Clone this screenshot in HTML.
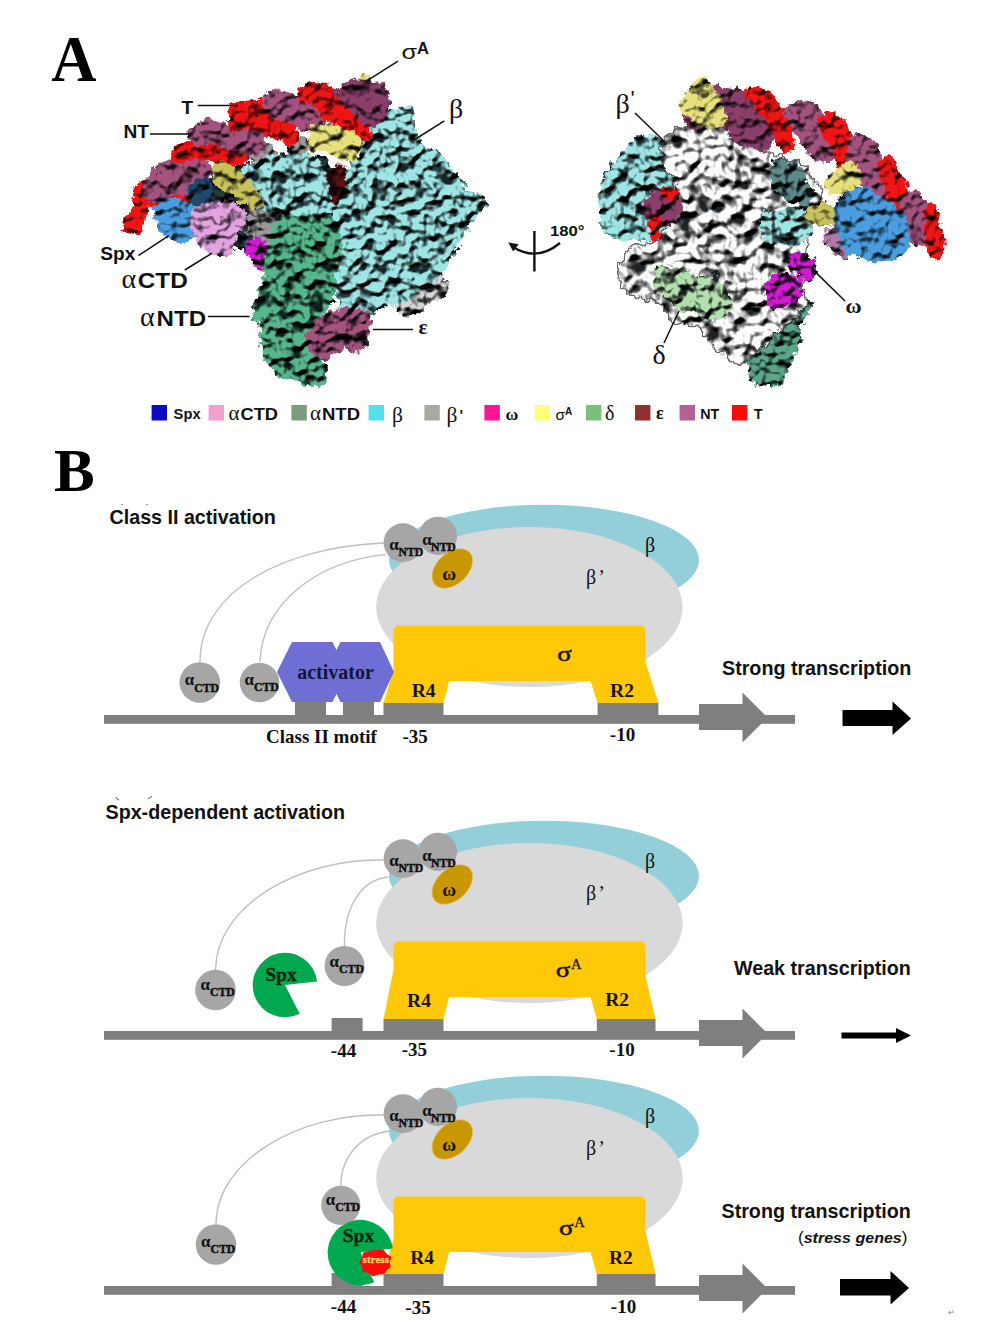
<!DOCTYPE html>
<html lang="en"><head><meta charset="utf-8"><title>Figure</title>
<style>html,body{margin:0;padding:0;background:#fff}svg{display:block}text{white-space:pre}</style></head><body>
<svg width="1000" height="1342" viewBox="0 0 1000 1342">
<rect width="1000" height="1342" fill="#fff"/>
<defs>
<filter id="fA" filterUnits="userSpaceOnUse" x="100" y="55" width="410" height="345" color-interpolation-filters="sRGB">
  <feTurbulence type="fractalNoise" baseFrequency="0.14" numOctaves="3" seed="5" result="n1"/>
  <feTurbulence type="fractalNoise" baseFrequency="0.045" numOctaves="1" seed="45" result="n0"/>
  <feDisplacementMap in="SourceGraphic" in2="n0" scale="14.3" xChannelSelector="G" yChannelSelector="B" result="shp0"/>
  <feDisplacementMap in="shp0" in2="n1" scale="11" xChannelSelector="R" yChannelSelector="G" result="shp"/>
  <feTurbulence type="fractalNoise" baseFrequency="0.08" numOctaves="2" seed="11" result="n2"/>
  <feColorMatrix in="n2" type="matrix" values="0 0 0 0 1  0 0 0 0 1  0 0 0 0 1  2.2 0 0 0 -0.6" result="hmap"/>
  <feDiffuseLighting in="hmap" surfaceScale="7" diffuseConstant="1.28" lighting-color="#ffffff" result="lit">
    <feDistantLight azimuth="250" elevation="58"/>
  </feDiffuseLighting>
  <feComposite in="lit" in2="shp" operator="arithmetic" k1="1" k2="0" k3="0" k4="0" result="shaded"/>
  <feColorMatrix in="n2" type="matrix" values="0 0 0 0 0.0  0 0 0 0 0.02  0 0 0 0 0.03  -8 0 0 0 2.92" result="dk0"/>
  <feComponentTransfer in="dk0" result="dk"><feFuncA type="linear" slope="0.86" intercept="0"/></feComponentTransfer>
  <feComposite in="dk" in2="shp" operator="in" result="dkin"/>
  
  <feMerge result="mrg"><feMergeNode in="shaded"/><feMergeNode in="dkin"/></feMerge>
  <feGaussianBlur in="mrg" stdDeviation="0.55"/>
</filter>
<filter id="fB" filterUnits="userSpaceOnUse" x="580" y="55" width="380" height="345" color-interpolation-filters="sRGB">
  <feTurbulence type="fractalNoise" baseFrequency="0.14" numOctaves="3" seed="8" result="n1"/>
  <feTurbulence type="fractalNoise" baseFrequency="0.045" numOctaves="1" seed="48" result="n0"/>
  <feDisplacementMap in="SourceGraphic" in2="n0" scale="14.3" xChannelSelector="G" yChannelSelector="B" result="shp0"/>
  <feDisplacementMap in="shp0" in2="n1" scale="11" xChannelSelector="R" yChannelSelector="G" result="shp"/>
  <feTurbulence type="fractalNoise" baseFrequency="0.08" numOctaves="2" seed="17" result="n2"/>
  <feColorMatrix in="n2" type="matrix" values="0 0 0 0 1  0 0 0 0 1  0 0 0 0 1  2.2 0 0 0 -0.6" result="hmap"/>
  <feDiffuseLighting in="hmap" surfaceScale="7" diffuseConstant="1.28" lighting-color="#ffffff" result="lit">
    <feDistantLight azimuth="250" elevation="58"/>
  </feDiffuseLighting>
  <feComposite in="lit" in2="shp" operator="arithmetic" k1="1" k2="0" k3="0" k4="0" result="shaded"/>
  <feColorMatrix in="n2" type="matrix" values="0 0 0 0 0.0  0 0 0 0 0.02  0 0 0 0 0.03  -8 0 0 0 2.92" result="dk0"/>
  <feComponentTransfer in="dk0" result="dk"><feFuncA type="linear" slope="0.86" intercept="0"/></feComponentTransfer>
  <feComposite in="dk" in2="shp" operator="in" result="dkin"/>
  
  <feMerge result="mrg"><feMergeNode in="shaded"/><feMergeNode in="dkin"/></feMerge>
  <feGaussianBlur in="mrg" stdDeviation="0.55"/>
</filter>
<filter id="fA2" filterUnits="userSpaceOnUse" x="100" y="55" width="410" height="345" color-interpolation-filters="sRGB">
  <feTurbulence type="fractalNoise" baseFrequency="0.14" numOctaves="3" seed="6" result="n1"/>
  <feTurbulence type="fractalNoise" baseFrequency="0.045" numOctaves="1" seed="46" result="n0"/>
  <feDisplacementMap in="SourceGraphic" in2="n0" scale="11.7" xChannelSelector="G" yChannelSelector="B" result="shp0"/>
  <feDisplacementMap in="shp0" in2="n1" scale="9" xChannelSelector="R" yChannelSelector="G" result="shp"/>
  <feTurbulence type="fractalNoise" baseFrequency="0.08" numOctaves="2" seed="12" result="n2"/>
  <feColorMatrix in="n2" type="matrix" values="0 0 0 0 1  0 0 0 0 1  0 0 0 0 1  2.2 0 0 0 -0.6" result="hmap"/>
  <feDiffuseLighting in="hmap" surfaceScale="4.5" diffuseConstant="1.28" lighting-color="#ffffff" result="lit">
    <feDistantLight azimuth="250" elevation="58"/>
  </feDiffuseLighting>
  <feComposite in="lit" in2="shp" operator="arithmetic" k1="1" k2="0" k3="0" k4="0" result="shaded"/>
  <feColorMatrix in="n2" type="matrix" values="0 0 0 0 0.0  0 0 0 0 0.02  0 0 0 0 0.03  -8 0 0 0 2.5" result="dk0"/>
  <feComponentTransfer in="dk0" result="dk"><feFuncA type="linear" slope="0.68" intercept="0"/></feComponentTransfer>
  <feComposite in="dk" in2="shp" operator="in" result="dkin"/>
  
  <feMerge result="mrg"><feMergeNode in="shaded"/><feMergeNode in="dkin"/></feMerge>
  <feGaussianBlur in="mrg" stdDeviation="0.55"/>
</filter>
<filter id="fB2" filterUnits="userSpaceOnUse" x="580" y="55" width="380" height="345" color-interpolation-filters="sRGB">
  <feTurbulence type="fractalNoise" baseFrequency="0.14" numOctaves="3" seed="9" result="n1"/>
  <feTurbulence type="fractalNoise" baseFrequency="0.045" numOctaves="1" seed="49" result="n0"/>
  <feDisplacementMap in="SourceGraphic" in2="n0" scale="11.7" xChannelSelector="G" yChannelSelector="B" result="shp0"/>
  <feDisplacementMap in="shp0" in2="n1" scale="9" xChannelSelector="R" yChannelSelector="G" result="shp"/>
  <feTurbulence type="fractalNoise" baseFrequency="0.08" numOctaves="2" seed="18" result="n2"/>
  <feColorMatrix in="n2" type="matrix" values="0 0 0 0 1  0 0 0 0 1  0 0 0 0 1  2.2 0 0 0 -0.6" result="hmap"/>
  <feDiffuseLighting in="hmap" surfaceScale="4.5" diffuseConstant="1.28" lighting-color="#ffffff" result="lit">
    <feDistantLight azimuth="250" elevation="58"/>
  </feDiffuseLighting>
  <feComposite in="lit" in2="shp" operator="arithmetic" k1="1" k2="0" k3="0" k4="0" result="shaded"/>
  <feColorMatrix in="n2" type="matrix" values="0 0 0 0 0.0  0 0 0 0 0.02  0 0 0 0 0.03  -8 0 0 0 2.5" result="dk0"/>
  <feComponentTransfer in="dk0" result="dk"><feFuncA type="linear" slope="0.68" intercept="0"/></feComponentTransfer>
  <feComposite in="dk" in2="shp" operator="in" result="dkin"/>
  
  <feMerge result="mrg"><feMergeNode in="shaded"/><feMergeNode in="dkin"/></feMerge>
  <feGaussianBlur in="mrg" stdDeviation="0.55"/>
</filter>
<filter id="fW" filterUnits="userSpaceOnUse" x="580" y="55" width="380" height="345" color-interpolation-filters="sRGB">
  <feTurbulence type="fractalNoise" baseFrequency="0.14" numOctaves="3" seed="8" result="n1"/>
  <feTurbulence type="fractalNoise" baseFrequency="0.045" numOctaves="1" seed="48" result="n0"/>
  <feDisplacementMap in="SourceGraphic" in2="n0" scale="14.3" xChannelSelector="G" yChannelSelector="B" result="shp0"/>
  <feDisplacementMap in="shp0" in2="n1" scale="11" xChannelSelector="R" yChannelSelector="G" result="shp"/>
  <feTurbulence type="fractalNoise" baseFrequency="0.065" numOctaves="2" seed="17" result="n2"/>
  <feColorMatrix in="n2" type="matrix" values="0 0 0 0 1  0 0 0 0 1  0 0 0 0 1  2.2 0 0 0 -0.6" result="hmap"/>
  <feDiffuseLighting in="hmap" surfaceScale="8.5" diffuseConstant="1.27" lighting-color="#ffffff" result="lit">
    <feDistantLight azimuth="250" elevation="58"/>
  </feDiffuseLighting>
  <feComposite in="lit" in2="shp" operator="arithmetic" k1="1" k2="0" k3="0" k4="0" result="shaded"/>
  <feColorMatrix in="n2" type="matrix" values="0 0 0 0 0.0  0 0 0 0 0.02  0 0 0 0 0.03  -8 0 0 0 3.0" result="dk0"/>
  <feComponentTransfer in="dk0" result="dk"><feFuncA type="linear" slope="0.88" intercept="0"/></feComponentTransfer>
  <feComposite in="dk" in2="shp" operator="in" result="dkin"/>
  <feMorphology in="shp" operator="dilate" radius="0.9" result="dil"/><feColorMatrix in="dil" type="matrix" values="0 0 0 0 0.2  0 0 0 0 0.2  0 0 0 0 0.2  0 0 0 0.75 0" result="edge"/>
  <feMerge result="mrg"><feMergeNode in="edge"/><feMergeNode in="shaded"/><feMergeNode in="dkin"/></feMerge>
  <feGaussianBlur in="mrg" stdDeviation="0.55"/>
</filter>
</defs>
<g filter="url(#fA)">
<path d="M192.0 196.0 C193.2 186.0 202.3 181.3 212.0 176.0 C221.7 170.7 235.3 167.0 250.0 164.0 C264.7 161.0 286.7 158.0 300.0 158.0 C313.3 158.0 323.0 154.7 330.0 164.0 C337.0 173.3 349.7 203.7 342.0 214.0 C334.3 224.3 298.3 220.0 284.0 226.0 C269.7 232.0 269.2 248.3 256.0 250.0 C242.8 251.7 215.7 245.0 205.0 236.0 C194.3 227.0 190.8 206.0 192.0 196.0Z" fill="#27383a"/>
<path d="M246.0 215.0 C248.0 210.3 256.3 207.5 262.0 208.0 C267.7 208.5 276.3 211.8 280.0 218.0 C283.7 224.2 285.0 237.7 284.0 245.0 C283.0 252.3 278.3 260.2 274.0 262.0 C269.7 263.8 262.0 260.3 258.0 256.0 C254.0 251.7 252.0 242.8 250.0 236.0 C248.0 229.2 244.0 219.7 246.0 215.0Z" fill="#9a9a9a"/>
<path d="M246.0 152.0 C247.7 149.3 257.3 145.7 262.0 146.0 C266.7 146.3 273.0 151.0 274.0 154.0 C275.0 157.0 271.7 162.7 268.0 164.0 C264.3 165.3 255.7 164.0 252.0 162.0 C248.3 160.0 244.3 154.7 246.0 152.0Z" fill="#9a9a9a"/>
<path d="M286.0 144.0 C287.7 141.3 296.0 137.7 300.0 138.0 C304.0 138.3 309.7 143.0 310.0 146.0 C310.3 149.0 305.3 154.7 302.0 156.0 C298.7 157.3 292.7 156.0 290.0 154.0 C287.3 152.0 284.3 146.7 286.0 144.0Z" fill="#9a9a9a"/>
<path d="M392.0 302.0 C394.7 297.0 409.7 290.3 418.0 286.0 C426.3 281.7 436.7 275.7 442.0 276.0 C447.3 276.3 452.3 283.0 450.0 288.0 C447.7 293.0 436.0 301.3 428.0 306.0 C420.0 310.7 408.0 316.7 402.0 316.0 C396.0 315.3 389.3 307.0 392.0 302.0Z" fill="#d8d4d4"/>
<path d="M246.0 244.0 C246.7 239.3 254.0 237.0 258.0 238.0 C262.0 239.0 268.3 245.0 270.0 250.0 C271.7 255.0 270.7 265.3 268.0 268.0 C265.3 270.7 257.7 270.0 254.0 266.0 C250.3 262.0 245.3 248.7 246.0 244.0Z" fill="#d21ad2"/>
<path d="M238.0 177.0 C239.5 171.7 247.3 167.3 252.0 164.0 C256.7 160.7 259.2 159.0 266.0 157.0 C272.8 155.0 285.2 152.2 293.0 152.0 C300.8 151.8 307.2 153.0 313.0 156.0 C318.8 159.0 322.7 168.3 328.0 170.0 C333.3 171.7 339.7 168.7 345.0 166.0 C350.3 163.3 356.8 159.2 360.0 154.0 C363.2 148.8 362.7 141.0 364.0 135.0 C365.3 129.0 364.8 122.5 368.0 118.0 C371.2 113.5 376.0 109.3 383.0 108.0 C390.0 106.7 404.2 106.3 410.0 110.0 C415.8 113.7 416.0 124.7 418.0 130.0 C420.0 135.3 418.0 137.7 422.0 142.0 C426.0 146.3 435.3 149.3 442.0 156.0 C448.7 162.7 454.7 174.0 462.0 182.0 C469.3 190.0 484.7 197.0 486.0 204.0 C487.3 211.0 475.2 216.3 470.0 224.0 C464.8 231.7 459.7 241.7 455.0 250.0 C450.3 258.3 448.5 266.7 442.0 274.0 C435.5 281.3 425.7 288.2 416.0 294.0 C406.3 299.8 393.3 305.7 384.0 309.0 C374.7 312.3 367.3 313.8 360.0 314.0 C352.7 314.2 344.3 315.7 340.0 310.0 C335.7 304.3 334.3 290.0 334.0 280.0 C333.7 270.0 337.7 259.2 338.0 250.0 C338.3 240.8 337.7 231.3 336.0 225.0 C334.3 218.7 335.2 213.5 328.0 212.0 C320.8 210.5 302.0 215.3 293.0 216.0 C284.0 216.7 279.8 217.8 274.0 216.0 C268.2 214.2 263.2 208.3 258.0 205.0 C252.8 201.7 246.3 200.7 243.0 196.0 C239.7 191.3 236.5 182.3 238.0 177.0Z" fill="#9ee6e6"/>
<path d="M330.0 166.0 C332.2 160.7 340.3 160.3 343.0 164.0 C345.7 167.7 346.8 181.3 346.0 188.0 C345.2 194.7 340.7 202.7 338.0 204.0 C335.3 205.3 331.3 202.3 330.0 196.0 C328.7 189.7 327.8 171.3 330.0 166.0Z" fill="#5a1414"/>
<path d="M272.0 224.0 C276.2 219.2 287.7 215.7 297.0 214.0 C306.3 212.3 320.7 210.5 328.0 214.0 C335.3 217.5 339.2 225.0 341.0 235.0 C342.8 245.0 340.8 262.5 339.0 274.0 C337.2 285.5 334.5 295.0 330.0 304.0 C325.5 313.0 314.0 320.0 312.0 328.0 C310.0 336.0 316.0 344.2 318.0 352.0 C320.0 359.8 324.7 369.2 324.0 375.0 C323.3 380.8 321.0 386.7 314.0 387.0 C307.0 387.3 290.7 382.5 282.0 377.0 C273.3 371.5 266.0 362.8 262.0 354.0 C258.0 345.2 260.0 330.5 258.0 324.0 C256.0 317.5 249.7 320.7 250.0 315.0 C250.3 309.3 257.3 299.5 260.0 290.0 C262.7 280.5 264.0 265.8 266.0 258.0 C268.0 250.2 271.0 248.7 272.0 243.0 C273.0 237.3 267.8 228.8 272.0 224.0Z" fill="#56b78c"/>
<path d="M304.0 334.0 C305.0 326.7 317.0 318.3 326.0 314.0 C335.0 309.7 350.3 306.3 358.0 308.0 C365.7 309.7 371.0 317.3 372.0 324.0 C373.0 330.7 369.7 343.2 364.0 348.0 C358.3 352.8 345.3 351.3 338.0 353.0 C330.7 354.7 325.7 361.2 320.0 358.0 C314.3 354.8 303.0 341.3 304.0 334.0Z" fill="#a4537f"/>
</g><g filter="url(#fA2)">
<path d="M125.4 228.6 C123.7 224.1 128.8 212.6 131.1 204.8 C133.3 197.1 136.0 185.8 139.0 182.2 C142.0 178.7 147.7 179.4 149.2 183.4 C150.7 187.3 149.4 197.9 148.0 206.0 C146.7 214.1 145.0 228.2 141.3 232.0 C137.5 235.7 127.1 233.1 125.4 228.6Z" fill="#f01414"/>
<path d="M142.6 202.9 C142.2 199.5 148.3 190.5 153.9 187.1 C159.6 183.7 169.7 183.3 176.5 182.6 C183.3 181.8 190.5 180.3 194.6 182.6 C198.7 184.8 204.0 192.4 201.4 196.1 C198.7 199.9 186.3 203.3 178.8 205.2 C171.2 207.1 162.2 207.8 156.2 207.4 C150.2 207.1 143.0 206.3 142.6 202.9Z" fill="#f01414"/>
<path d="M143.3 198.2 C141.4 193.7 144.2 180.3 146.7 174.5 C149.1 168.6 152.3 166.2 158.0 163.2 C163.6 160.2 173.1 157.1 180.6 156.4 C188.1 155.6 198.1 155.6 203.2 158.6 C208.3 161.7 211.3 169.2 211.1 174.5 C210.9 179.7 207.9 186.9 202.1 190.3 C196.2 193.7 183.4 192.9 176.1 194.8 C168.7 196.7 163.5 201.0 158.0 201.6 C152.5 202.2 145.2 202.7 143.3 198.2Z" fill="#a4537f"/>
<path d="M186.3 185.2 C188.8 181.2 200.8 177.3 205.5 178.4 C210.3 179.5 214.4 187.6 214.6 191.9 C214.8 196.3 210.6 202.7 206.7 204.4 C202.7 206.1 194.2 205.3 190.9 202.1 C187.5 198.9 183.9 189.1 186.3 185.2Z" fill="#1f4a6e"/>
<path d="M169.5 150.7 C171.4 146.7 179.8 142.8 187.6 140.5 C195.3 138.2 206.4 136.2 215.8 137.1 C225.2 138.1 238.4 142.2 244.1 146.2 C249.7 150.1 252.3 157.5 249.7 160.8 C247.1 164.2 236.7 166.3 228.2 166.5 C219.8 166.7 207.5 162.4 198.9 162.0 C190.2 161.6 181.2 166.1 176.3 164.2 C171.4 162.4 167.6 154.6 169.5 150.7Z" fill="#f01414"/>
<path d="M186.3 132.6 C187.2 128.5 195.7 120.5 202.1 119.0 C208.5 117.5 217.2 123.2 224.7 123.6 C232.2 123.9 240.5 119.8 247.3 121.3 C254.1 122.8 262.7 127.3 265.4 132.6 C268.0 137.9 267.1 149.5 263.1 152.9 C259.2 156.3 249.0 154.1 241.6 152.9 C234.3 151.8 226.6 147.7 219.0 146.2 C211.5 144.6 201.9 146.2 196.4 143.9 C191.0 141.6 185.3 136.7 186.3 132.6Z" fill="#a4537f"/>
<path d="M228.2 120.8 C228.5 116.5 231.9 107.4 237.2 103.9 C242.5 100.3 252.1 98.4 259.8 99.3 C267.5 100.3 277.3 104.6 283.5 109.5 C289.8 114.4 295.6 123.1 297.1 128.7 C298.6 134.4 296.9 142.1 292.6 143.4 C288.3 144.7 278.5 138.9 271.1 136.6 C263.8 134.4 254.5 131.0 248.5 129.9 C242.5 128.7 238.3 131.4 235.0 129.9 C231.6 128.3 227.8 125.1 228.2 120.8Z" fill="#f01414"/>
<path d="M259.0 102.9 C259.6 98.9 266.5 92.9 272.6 91.6 C278.6 90.2 288.4 93.1 295.2 94.9 C302.0 96.8 308.0 98.9 313.3 102.9 C318.5 106.8 325.3 113.2 326.8 118.7 C328.3 124.1 326.6 133.6 322.3 135.6 C318.0 137.7 307.2 133.4 300.8 131.1 C294.4 128.8 289.1 124.7 283.9 122.1 C278.6 119.4 273.3 118.5 269.2 115.3 C265.0 112.1 258.4 106.8 259.0 102.9Z" fill="#a4537f"/>
<path d="M294.7 89.7 C296.2 86.3 303.4 82.2 309.4 81.8 C315.4 81.5 324.5 84.3 330.9 87.5 C337.3 90.7 342.2 95.8 347.8 101.0 C353.5 106.3 361.2 112.9 364.8 119.1 C368.3 125.3 371.3 134.7 369.3 138.3 C367.2 141.9 358.0 142.8 352.3 140.6 C346.7 138.3 341.4 130.0 335.4 124.8 C329.4 119.5 322.0 112.7 316.2 108.9 C310.3 105.2 303.9 105.4 300.3 102.2 C296.8 99.0 293.2 93.1 294.7 89.7Z" fill="#f01414"/>
<path d="M356.0 85.4 C354.7 83.5 359.0 77.5 361.6 76.3 C364.3 75.2 370.5 76.7 371.8 78.6 C373.1 80.5 372.2 86.5 369.6 87.7 C366.9 88.8 357.3 87.3 356.0 85.4Z" fill="#e8e07a"/>
<path d="M333.5 95.4 C332.2 90.9 337.8 85.6 342.5 83.0 C347.3 80.3 355.0 79.0 361.8 79.6 C368.5 80.2 378.5 82.2 383.2 86.4 C387.9 90.5 390.0 98.6 390.0 104.5 C390.0 110.3 387.2 118.2 383.2 121.4 C379.3 124.6 371.7 125.5 366.3 123.7 C360.8 121.8 355.9 114.8 350.5 110.1 C345.0 105.4 334.8 99.9 333.5 95.4Z" fill="#8a3f6a"/>
<path d="M307.0 140.0 C307.0 135.3 309.0 128.2 312.0 125.0 C315.0 121.8 320.3 121.0 325.0 121.0 C329.7 121.0 335.3 123.2 340.0 125.0 C344.7 126.8 349.5 128.5 353.0 132.0 C356.5 135.5 360.5 141.5 361.0 146.0 C361.5 150.5 359.5 156.8 356.0 159.0 C352.5 161.2 345.2 160.3 340.0 159.0 C334.8 157.7 329.7 152.0 325.0 151.0 C320.3 150.0 315.0 154.8 312.0 153.0 C309.0 151.2 307.0 144.7 307.0 140.0Z" fill="#e8e07a"/>
<path d="M211.0 170.0 C212.5 166.3 220.2 163.2 225.0 163.0 C229.8 162.8 235.7 165.3 240.0 169.0 C244.3 172.7 247.2 180.2 251.0 185.0 C254.8 189.8 261.7 194.0 263.0 198.0 C264.3 202.0 262.8 207.8 259.0 209.0 C255.2 210.2 245.2 207.7 240.0 205.0 C234.8 202.3 232.0 196.3 228.0 193.0 C224.0 189.7 218.8 188.8 216.0 185.0 C213.2 181.2 209.5 173.7 211.0 170.0Z" fill="#c9c25c"/>
<path d="M154.0 206.0 C155.3 202.2 159.8 200.2 165.0 199.0 C170.2 197.8 179.3 197.5 185.0 199.0 C190.7 200.5 196.3 203.7 199.0 208.0 C201.7 212.3 202.0 219.8 201.0 225.0 C200.0 230.2 196.8 236.0 193.0 239.0 C189.2 242.0 182.7 243.3 178.0 243.0 C173.3 242.7 168.5 240.5 165.0 237.0 C161.5 233.5 158.8 227.2 157.0 222.0 C155.2 216.8 152.7 209.8 154.0 206.0Z" fill="#4a9ee0"/>
<path d="M190.0 214.0 C191.5 209.7 194.8 206.3 199.0 204.0 C203.2 201.7 209.3 200.2 215.0 200.0 C220.7 199.8 227.8 200.8 233.0 203.0 C238.2 205.2 244.2 209.0 246.0 213.0 C247.8 217.0 245.8 222.8 244.0 227.0 C242.2 231.2 237.2 233.8 235.0 238.0 C232.8 242.2 233.5 249.0 231.0 252.0 C228.5 255.0 224.0 256.5 220.0 256.0 C216.0 255.5 211.0 251.2 207.0 249.0 C203.0 246.8 198.8 246.2 196.0 243.0 C193.2 239.8 191.0 234.8 190.0 230.0 C189.0 225.2 188.5 218.3 190.0 214.0Z" fill="#e3a2e0"/>
</g>
<g filter="url(#fB)">
<path d="M598.0 212.0 C596.7 201.2 601.0 183.0 606.0 172.0 C611.0 161.0 620.0 152.3 628.0 146.0 C636.0 139.7 646.8 133.3 654.0 134.0 C661.2 134.7 667.2 142.3 671.0 150.0 C674.8 157.7 676.8 169.7 677.0 180.0 C677.2 190.3 673.7 202.7 672.0 212.0 C670.3 221.3 672.3 231.0 667.0 236.0 C661.7 241.0 648.8 241.8 640.0 242.0 C631.2 242.2 621.0 242.0 614.0 237.0 C607.0 232.0 599.3 222.8 598.0 212.0Z" fill="#9ee6e6"/>
<path d="M744.0 312.0 C748.3 303.7 760.7 302.5 770.0 300.0 C779.3 297.5 793.2 296.2 800.0 297.0 C806.8 297.8 810.8 300.3 811.0 305.0 C811.2 309.7 803.0 318.3 801.0 325.0 C799.0 331.7 800.7 338.3 799.0 345.0 C797.3 351.7 795.3 358.0 791.0 365.0 C786.7 372.0 779.5 384.3 773.0 387.0 C766.5 389.7 756.8 387.2 752.0 381.0 C747.2 374.8 745.3 361.5 744.0 350.0 C742.7 338.5 739.7 320.3 744.0 312.0Z" fill="#5aa688"/>
</g><g filter="url(#fW)">
<path d="M664.0 142.0 C667.2 135.8 676.3 131.7 684.0 128.0 C691.7 124.3 700.7 119.7 710.0 120.0 C719.3 120.3 731.7 125.0 740.0 130.0 C748.3 135.0 750.0 144.2 760.0 150.0 C770.0 155.8 789.7 158.3 800.0 165.0 C810.3 171.7 820.0 180.8 822.0 190.0 C824.0 199.2 814.7 210.0 812.0 220.0 C809.3 230.0 807.8 240.0 806.0 250.0 C804.2 260.0 801.0 270.8 801.0 280.0 C801.0 289.2 809.3 297.5 806.0 305.0 C802.7 312.5 788.7 317.5 781.0 325.0 C773.3 332.5 766.8 343.8 760.0 350.0 C753.2 356.2 748.0 362.7 740.0 362.0 C732.0 361.3 719.3 352.0 712.0 346.0 C704.7 340.0 702.0 330.0 696.0 326.0 C690.0 322.0 682.0 326.0 676.0 322.0 C670.0 318.0 667.7 306.2 660.0 302.0 C652.3 297.8 636.8 302.3 630.0 297.0 C623.2 291.7 619.0 277.8 619.0 270.0 C619.0 262.2 623.2 255.0 630.0 250.0 C636.8 245.0 653.3 245.0 660.0 240.0 C666.7 235.0 666.7 228.3 670.0 220.0 C673.3 211.7 680.8 199.2 680.0 190.0 C679.2 180.8 667.7 173.0 665.0 165.0 C662.3 157.0 660.8 148.2 664.0 142.0Z" fill="#fbfbfb"/>
</g><g filter="url(#fB)">
<path d="M776.0 160.0 C780.7 158.0 793.3 163.0 800.0 168.0 C806.7 173.0 815.0 183.7 816.0 190.0 C817.0 196.3 811.0 204.3 806.0 206.0 C801.0 207.7 791.7 204.3 786.0 200.0 C780.3 195.7 773.7 186.7 772.0 180.0 C770.3 173.3 771.3 162.0 776.0 160.0Z" fill="#5d8a8a"/>
<path d="M760.0 216.0 C762.5 210.5 777.0 208.3 785.0 208.0 C793.0 207.7 803.7 209.5 808.0 214.0 C812.3 218.5 813.0 229.7 811.0 235.0 C809.0 240.3 802.8 245.0 796.0 246.0 C789.2 247.0 776.0 246.0 770.0 241.0 C764.0 236.0 757.5 221.5 760.0 216.0Z" fill="#9ee6e6"/>
<path d="M645.0 202.0 C647.2 197.3 654.3 191.0 660.0 190.0 C665.7 189.0 676.2 191.3 679.0 196.0 C681.8 200.7 680.2 212.8 677.0 218.0 C673.8 223.2 665.0 227.0 660.0 227.0 C655.0 227.0 649.5 222.2 647.0 218.0 C644.5 213.8 642.8 206.7 645.0 202.0Z" fill="#8a3f6a"/>
<path d="M649.0 222.0 C650.3 218.3 657.7 214.5 660.0 217.0 C662.3 219.5 664.3 233.3 663.0 237.0 C661.7 240.7 654.3 241.5 652.0 239.0 C649.7 236.5 647.7 225.7 649.0 222.0Z" fill="#f01414"/>
<path d="M661.0 190.0 C663.2 187.7 674.7 185.7 678.0 187.0 C681.3 188.3 683.2 195.7 681.0 198.0 C678.8 200.3 668.3 202.3 665.0 201.0 C661.7 199.7 658.8 192.3 661.0 190.0Z" fill="#f01414"/>
<path d="M651.0 272.0 C652.7 267.7 662.7 266.8 670.0 267.0 C677.3 267.2 687.3 270.8 695.0 273.0 C702.7 275.2 710.0 276.3 716.0 280.0 C722.0 283.7 728.8 289.5 731.0 295.0 C733.2 300.5 732.5 308.7 729.0 313.0 C725.5 317.3 716.5 321.0 710.0 321.0 C703.5 321.0 695.8 315.7 690.0 313.0 C684.2 310.3 680.0 308.3 675.0 305.0 C670.0 301.7 664.0 298.5 660.0 293.0 C656.0 287.5 649.3 276.3 651.0 272.0Z" fill="#b4e0b0"/>
<path d="M791.0 258.0 C792.2 253.0 800.7 250.7 805.0 251.0 C809.3 251.3 815.7 255.3 817.0 260.0 C818.3 264.7 816.2 275.5 813.0 279.0 C809.8 282.5 801.7 284.5 798.0 281.0 C794.3 277.5 789.8 263.0 791.0 258.0Z" fill="#d21ad2"/>
<path d="M761.0 286.0 C762.7 281.0 771.7 275.7 778.0 275.0 C784.3 274.3 795.2 278.2 799.0 282.0 C802.8 285.8 803.3 293.5 801.0 298.0 C798.7 302.5 790.5 307.8 785.0 309.0 C779.5 310.2 772.0 308.8 768.0 305.0 C764.0 301.2 759.3 291.0 761.0 286.0Z" fill="#d21ad2"/>
</g><g filter="url(#fB2)">
<path d="M683.0 112.0 C684.7 105.5 693.8 94.5 700.0 90.0 C706.2 85.5 712.5 84.8 720.0 85.0 C727.5 85.2 737.3 86.8 745.0 91.0 C752.7 95.2 761.3 102.7 766.0 110.0 C770.7 117.3 773.0 128.5 773.0 135.0 C773.0 141.5 770.7 147.2 766.0 149.0 C761.3 150.8 751.8 149.0 745.0 146.0 C738.2 143.0 731.7 133.8 725.0 131.0 C718.3 128.2 710.8 129.3 705.0 129.0 C699.2 128.7 693.7 131.8 690.0 129.0 C686.3 126.2 681.3 118.5 683.0 112.0Z" fill="#8a3f6a"/>
<path d="M677.0 100.0 C678.7 95.8 685.3 90.5 690.0 87.0 C694.7 83.5 701.2 78.8 705.0 79.0 C708.8 79.2 710.0 84.5 713.0 88.0 C716.0 91.5 720.7 95.0 723.0 100.0 C725.3 105.0 728.2 113.2 727.0 118.0 C725.8 122.8 720.5 127.5 716.0 129.0 C711.5 130.5 704.3 128.7 700.0 127.0 C695.7 125.3 693.3 121.5 690.0 119.0 C686.7 116.5 682.2 115.2 680.0 112.0 C677.8 108.8 675.3 104.2 677.0 100.0Z" fill="#e8e07a"/>
<path d="M747.0 92.0 C747.7 87.7 756.7 85.7 762.0 87.0 C767.3 88.3 774.2 93.7 779.0 100.0 C783.8 106.3 788.7 116.8 791.0 125.0 C793.3 133.2 794.5 144.7 793.0 149.0 C791.5 153.3 785.8 154.0 782.0 151.0 C778.2 148.0 774.0 137.3 770.0 131.0 C766.0 124.7 761.8 119.5 758.0 113.0 C754.2 106.5 746.3 96.3 747.0 92.0Z" fill="#f01414"/>
<path d="M783.0 113.0 C783.8 107.5 793.7 103.5 800.0 103.0 C806.3 102.5 815.5 105.5 821.0 110.0 C826.5 114.5 830.3 122.5 833.0 130.0 C835.7 137.5 838.3 149.5 837.0 155.0 C835.7 160.5 829.5 163.7 825.0 163.0 C820.5 162.3 815.0 155.5 810.0 151.0 C805.0 146.5 799.5 142.3 795.0 136.0 C790.5 129.7 782.2 118.5 783.0 113.0Z" fill="#a4537f"/>
<path d="M819.0 118.0 C819.8 111.7 830.0 111.0 835.0 113.0 C840.0 115.0 845.3 123.0 849.0 130.0 C852.7 137.0 856.0 147.8 857.0 155.0 C858.0 162.2 857.8 170.7 855.0 173.0 C852.2 175.3 844.2 172.7 840.0 169.0 C835.8 165.3 833.5 159.5 830.0 151.0 C826.5 142.5 818.2 124.3 819.0 118.0Z" fill="#f01414"/>
<path d="M845.0 146.0 C846.7 140.8 854.3 134.3 860.0 135.0 C865.7 135.7 874.2 143.3 879.0 150.0 C883.8 156.7 887.7 166.8 889.0 175.0 C890.3 183.2 889.8 194.7 887.0 199.0 C884.2 203.3 876.8 204.0 872.0 201.0 C867.2 198.0 861.7 186.8 858.0 181.0 C854.3 175.2 852.2 171.8 850.0 166.0 C847.8 160.2 843.3 151.2 845.0 146.0Z" fill="#a4537f"/>
<path d="M877.0 161.0 C878.7 155.3 887.3 153.8 892.0 157.0 C896.7 160.2 902.5 172.0 905.0 180.0 C907.5 188.0 907.7 198.8 907.0 205.0 C906.3 211.2 904.5 216.0 901.0 217.0 C897.5 218.0 889.2 215.3 886.0 211.0 C882.8 206.7 883.5 199.3 882.0 191.0 C880.5 182.7 875.3 166.7 877.0 161.0Z" fill="#f01414"/>
<path d="M901.0 197.0 C902.8 191.7 910.7 186.8 915.0 189.0 C919.3 191.2 924.3 202.3 927.0 210.0 C929.7 217.7 931.7 228.8 931.0 235.0 C930.3 241.2 926.5 246.0 923.0 247.0 C919.5 248.0 913.2 245.3 910.0 241.0 C906.8 236.7 905.5 228.3 904.0 221.0 C902.5 213.7 899.2 202.3 901.0 197.0Z" fill="#a4537f"/>
<path d="M923.0 211.0 C924.3 206.2 930.7 203.0 934.0 207.0 C937.3 211.0 941.8 226.0 943.0 235.0 C944.2 244.0 943.2 257.5 941.0 261.0 C938.8 264.5 932.5 260.2 930.0 256.0 C927.5 251.8 927.2 243.5 926.0 236.0 C924.8 228.5 921.7 215.8 923.0 211.0Z" fill="#f01414"/>
<path d="M823.0 181.0 C824.3 176.3 834.2 168.0 840.0 165.0 C845.8 162.0 854.2 160.5 858.0 163.0 C861.8 165.5 864.3 175.0 863.0 180.0 C861.7 185.0 855.2 190.8 850.0 193.0 C844.8 195.2 836.5 195.0 832.0 193.0 C827.5 191.0 821.7 185.7 823.0 181.0Z" fill="#e8e07a"/>
<path d="M803.0 211.0 C805.2 207.3 819.0 202.8 825.0 203.0 C831.0 203.2 837.2 208.3 839.0 212.0 C840.8 215.7 840.5 222.8 836.0 225.0 C831.5 227.2 817.5 227.3 812.0 225.0 C806.5 222.7 800.8 214.7 803.0 211.0Z" fill="#c9c25c"/>
<path d="M825.0 233.0 C827.2 228.3 840.0 223.8 845.0 225.0 C850.0 226.2 854.3 234.7 855.0 240.0 C855.7 245.3 852.8 254.8 849.0 257.0 C845.2 259.2 836.0 257.0 832.0 253.0 C828.0 249.0 822.8 237.7 825.0 233.0Z" fill="#b07aa6"/>
<path d="M836.0 206.0 C837.7 198.3 843.3 194.7 848.0 192.0 C852.7 189.3 858.7 189.0 864.0 190.0 C869.3 191.0 874.7 195.7 880.0 198.0 C885.3 200.3 891.3 200.0 896.0 204.0 C900.7 208.0 905.8 215.3 908.0 222.0 C910.2 228.7 911.0 238.2 909.0 244.0 C907.0 249.8 902.5 254.5 896.0 257.0 C889.5 259.5 877.7 259.7 870.0 259.0 C862.3 258.3 855.3 256.5 850.0 253.0 C844.7 249.5 840.3 245.8 838.0 238.0 C835.7 230.2 834.3 213.7 836.0 206.0Z" fill="#4a9ee0"/>
</g>
<line x1="197.7" y1="105.6" x2="238" y2="105.6" stroke="#111" stroke-width="1.5"/>
<line x1="150" y1="134" x2="192.4" y2="134" stroke="#111" stroke-width="1.5"/>
<line x1="398" y1="61.2" x2="367.6" y2="80.4" stroke="#111" stroke-width="1.5"/>
<line x1="444.4" y1="120.9" x2="414" y2="140" stroke="#111" stroke-width="1.5"/>
<line x1="138.4" y1="255.6" x2="168.8" y2="235.6" stroke="#111" stroke-width="1.5"/>
<line x1="184.8" y1="270" x2="212" y2="253.2" stroke="#111" stroke-width="1.5"/>
<line x1="208" y1="316.4" x2="249.6" y2="316.4" stroke="#111" stroke-width="1.5"/>
<line x1="373" y1="329.6" x2="413" y2="329.6" stroke="#111" stroke-width="1.5"/>
<line x1="635" y1="113" x2="665" y2="142" stroke="#111" stroke-width="1.5"/>
<line x1="664" y1="343" x2="679" y2="311" stroke="#111" stroke-width="1.5"/>
<line x1="815" y1="271.6" x2="845" y2="301" stroke="#111" stroke-width="1.5"/>
<text x="181.5" y="114.4" font-family='"Liberation Sans", Arial, sans-serif' font-weight="bold" font-size="19" fill="#111">T</text>
<text x="123.5" y="138" font-family='"Liberation Sans", Arial, sans-serif' font-weight="bold" font-size="19" fill="#111" textLength="25.5" lengthAdjust="spacingAndGlyphs">NT</text>
<text x="401.5" y="59.3" font-family='"Liberation Sans", Arial, sans-serif' font-size="20" fill="#111" textLength="15.5" lengthAdjust="spacingAndGlyphs">σ</text>
<text x="417" y="54" font-family='"Liberation Sans", Arial, sans-serif' font-weight="bold" font-size="16.5" fill="#111">A</text>
<text x="449" y="117.6" font-family='"Liberation Serif", "Times New Roman", serif' font-size="28" fill="#111">β</text>
<text x="100.3" y="259.6" font-family='"Liberation Sans", Arial, sans-serif' font-weight="bold" font-size="18" fill="#111" textLength="35" lengthAdjust="spacingAndGlyphs">Spx</text>
<text x="121.5" y="288.4" font-family='"Liberation Serif", "Times New Roman", serif' font-size="28" fill="#111">α</text>
<text x="137.8" y="288.4" font-family='"Liberation Sans", Arial, sans-serif' font-weight="bold" font-size="22.5" fill="#111" textLength="50" lengthAdjust="spacingAndGlyphs">CTD</text>
<text x="140" y="325.7" font-family='"Liberation Serif", "Times New Roman", serif' font-size="28" fill="#111">α</text>
<text x="156.6" y="325.7" font-family='"Liberation Sans", Arial, sans-serif' font-weight="bold" font-size="22.5" fill="#111" textLength="49.5" lengthAdjust="spacingAndGlyphs">NTD</text>
<text x="418.5" y="334" font-family='"Liberation Serif", "Times New Roman", serif' font-weight="bold" font-size="21" fill="#111">ε</text>
<text x="615.5" y="112.5" font-family='"Liberation Serif", "Times New Roman", serif' font-size="28" fill="#111">β</text>
<text x="630.5" y="106" font-family='"Liberation Sans", Arial, sans-serif' font-size="22" fill="#111">'</text>
<text x="652.5" y="363.5" font-family='"Liberation Serif", "Times New Roman", serif' font-size="28" fill="#111">δ</text>
<text x="845.5" y="313" font-family='"Liberation Serif", "Times New Roman", serif' font-weight="bold" font-size="22" fill="#111">ω</text>
<line x1="534.4" y1="231" x2="534.4" y2="271.5" stroke="#111" stroke-width="2.4"/>
<path d="M560 243 Q537 262 513 247" fill="none" stroke="#111" stroke-width="2.4"/>
<path d="M508.3 242.6 L518.6 244.2 L513.2 251.5Z" fill="#111"/>
<text x="550" y="236" font-family='"Liberation Sans", Arial, sans-serif' font-weight="bold" font-size="15.5" fill="#111" textLength="34.5" lengthAdjust="spacingAndGlyphs">180°</text>
<rect x="151.6" y="405" width="15.4" height="15.5" fill="#0b0bbf"/>
<text x="173.6" y="418.6" font-family='"Liberation Sans", Arial, sans-serif' font-weight="bold" font-size="14" fill="#111" textLength="27" lengthAdjust="spacingAndGlyphs">Spx</text>
<rect x="208.6" y="405" width="15.4" height="15.5" fill="#f2a0cd"/>
<text x="228.5" y="420" font-family='"Liberation Serif", "Times New Roman", serif' font-size="21" fill="#111">α</text>
<text x="240.5" y="420" font-family='"Liberation Sans", Arial, sans-serif' font-weight="bold" font-size="16.8" fill="#111" textLength="37.5" lengthAdjust="spacingAndGlyphs">CTD</text>
<rect x="291.4" y="405" width="15.4" height="15.5" fill="#7b9d7b"/>
<text x="310" y="420" font-family='"Liberation Serif", "Times New Roman", serif' font-size="21" fill="#111">α</text>
<text x="322" y="420" font-family='"Liberation Sans", Arial, sans-serif' font-weight="bold" font-size="16.8" fill="#111" textLength="38" lengthAdjust="spacingAndGlyphs">NTD</text>
<rect x="368.6" y="405" width="15.4" height="15.5" fill="#55dfe9"/>
<text x="392" y="421.5" font-family='"Liberation Serif", "Times New Roman", serif' font-size="21.5" fill="#111">β</text>
<rect x="424.4" y="405" width="15.4" height="15.5" fill="#a9a9a4"/>
<text x="446.5" y="421.5" font-family='"Liberation Serif", "Times New Roman", serif' font-size="21.5" fill="#111">β</text>
<text x="459.5" y="420" font-family='"Liberation Sans", Arial, sans-serif' font-weight="bold" font-size="15" fill="#111">'</text>
<rect x="484.4" y="405" width="15.4" height="15.5" fill="#ff1493"/>
<text x="505.5" y="419.5" font-family='"Liberation Serif", "Times New Roman", serif' font-weight="bold" font-size="17.5" fill="#111">ω</text>
<rect x="534.6" y="405" width="15.4" height="15.5" fill="#ffff7a"/>
<text x="555.5" y="419.5" font-family='"Liberation Sans", Arial, sans-serif' font-size="15.5" fill="#111">σ</text>
<text x="565" y="415.2" font-family='"Liberation Sans", Arial, sans-serif' font-weight="bold" font-size="10" fill="#111">A</text>
<rect x="586" y="405" width="15.4" height="15.5" fill="#79c179"/>
<text x="605" y="420.3" font-family='"Liberation Serif", "Times New Roman", serif' font-size="20" fill="#111">δ</text>
<rect x="635" y="405" width="15.4" height="15.5" fill="#8e3131"/>
<text x="656" y="419.3" font-family='"Liberation Serif", "Times New Roman", serif' font-weight="bold" font-size="18" fill="#111">ε</text>
<rect x="679.6" y="405" width="15.4" height="15.5" fill="#b26192"/>
<text x="700.2" y="418.6" font-family='"Liberation Sans", Arial, sans-serif' font-weight="bold" font-size="14" fill="#111" textLength="19" lengthAdjust="spacingAndGlyphs">NT</text>
<rect x="732" y="405" width="15.4" height="15.5" fill="#ff0808"/>
<text x="754" y="418.6" font-family='"Liberation Sans", Arial, sans-serif' font-weight="bold" font-size="14" fill="#111">T</text>
<text x="51.3" y="80.5" font-family='"Liberation Serif", "Times New Roman", serif' font-weight="bold" font-size="65" fill="#000" textLength="45.2" lengthAdjust="spacingAndGlyphs">A</text>
<text x="54" y="490.5" font-family='"Liberation Serif", "Times New Roman", serif' font-weight="bold" font-size="61" fill="#000">B</text>
<g id="d1">
<text x="109.5" y="523.8" font-family='"Liberation Sans", Arial, sans-serif' font-weight="bold" font-size="19.7" fill="#111">Class II activation</text>
<rect x="121" y="504" width="2" height="1" fill="#999"/><rect x="146" y="504" width="2" height="1" fill="#999"/>
<path d="M200 662 C200 590 285 547 384 543" fill="none" stroke="#bfbfbf" stroke-width="1.4"/>
<path d="M260 662 C262 603 318 561 385.6 554.6" fill="none" stroke="#bfbfbf" stroke-width="1.4"/>
<ellipse cx="544" cy="560" rx="155" ry="55.3" fill="#93cfd8"/>
<ellipse cx="529.4" cy="607" rx="153.3" ry="80" fill="#d9d9d9"/>
<rect x="104" y="715" width="691" height="8.8" fill="#7f7f7f"/>
<rect x="383.5" y="702.8" width="60" height="13" fill="#7f7f7f"/>
<rect x="597.6" y="702.8" width="60.8" height="13" fill="#7f7f7f"/>
<path d="M399 625.5 H640 Q645.5 625.5 645.5 631.0 V662 L658.4 702.9 H597.6 L590.5 681 H449.2 L443.5 702.9 H383.5 L393.5 670 V631.0 Q393.5 625.5 399 625.5Z" fill="#ffc90a"/>
<ellipse cx="452.3" cy="568.5" rx="23.7" ry="15.6" transform="rotate(-43 452.3 568.5)" fill="#c99700" stroke="#e6c25a" stroke-width="0.8"/>
<circle cx="403" cy="542.7" r="19.4" fill="#a6a6a6"/>
<circle cx="438" cy="535.8" r="19.1" fill="#a6a6a6"/>
<path d="M699 704 H742.5 V692.5 L767.5 717.5 L742.5 742.5 V730 H699Z" fill="#7f7f7f"/>
<text x="650" y="552" font-family='"Liberation Serif", "Times New Roman", serif' font-size="20" text-anchor="middle" fill="#111">β</text>
<text x="586" y="584" font-family='"Liberation Serif", "Times New Roman", serif' font-size="20" letter-spacing="2" fill="#111">β’</text>
<text x="449.3" y="579.8" font-family='"Liberation Serif", "Times New Roman", serif' font-weight="bold" font-size="19" text-anchor="middle" fill="#1a1400">ω</text>
<text x="423.6" y="697.2" font-family='"Liberation Serif", "Times New Roman", serif' font-weight="bold" font-size="19.5" text-anchor="middle" fill="#1a1400">R4</text>
<text x="622" y="697" font-family='"Liberation Serif", "Times New Roman", serif' font-weight="bold" font-size="19.5" text-anchor="middle" fill="#1a1400">R2</text>
<text x="415.2" y="742.8" font-family='"Liberation Serif", "Times New Roman", serif' font-weight="bold" font-size="19" text-anchor="middle" fill="#111">-35</text>
<text x="622.5" y="741" font-family='"Liberation Serif", "Times New Roman", serif' font-weight="bold" font-size="19" text-anchor="middle" fill="#111">-10</text>
<text x="557.3" y="661.4" font-family='"Liberation Serif", "Times New Roman", serif' font-size="22" fill="#1a1400" stroke="#1a1400" stroke-width="0.55" textLength="14.5" lengthAdjust="spacingAndGlyphs">σ</text>
<text x="389.3" y="549.6" font-family='"Liberation Serif", "Times New Roman", serif' font-weight="bold" font-size="17" fill="#111">α</text>
<text x="398.5" y="556.2" font-family='"Liberation Serif", "Times New Roman", serif' font-weight="bold" font-size="11.6" fill="#111" stroke="#111" stroke-width="0.45" textLength="24.8" lengthAdjust="spacingAndGlyphs">NTD</text>
<text x="422.3" y="544.6" font-family='"Liberation Serif", "Times New Roman", serif' font-weight="bold" font-size="17" fill="#111">α</text>
<text x="431" y="550.7" font-family='"Liberation Serif", "Times New Roman", serif' font-weight="bold" font-size="11.6" fill="#111" stroke="#111" stroke-width="0.45" textLength="24.8" lengthAdjust="spacingAndGlyphs">NTD</text>
<circle cx="199.8" cy="682.5" r="20.3" fill="#a6a6a6"/><text x="184.8" y="685.3" font-family='"Liberation Serif", "Times New Roman", serif' font-weight="bold" font-size="17" fill="#111">α</text><text x="194.3" y="691.5999999999999" font-family='"Liberation Serif", "Times New Roman", serif' font-weight="bold" font-size="11.6" fill="#111" stroke="#111" stroke-width="0.45" textLength="24.8" lengthAdjust="spacingAndGlyphs">CTD</text>
<circle cx="259.5" cy="682.5" r="19.8" fill="#a6a6a6"/><text x="244.5" y="684.5" font-family='"Liberation Serif", "Times New Roman", serif' font-weight="bold" font-size="17" fill="#111">α</text><text x="254.0" y="690.8" font-family='"Liberation Serif", "Times New Roman", serif' font-weight="bold" font-size="11.6" fill="#111" stroke="#111" stroke-width="0.45" textLength="24.8" lengthAdjust="spacingAndGlyphs">CTD</text>
<rect x="295" y="702" width="31" height="14" fill="#7f7f7f"/><rect x="343" y="702" width="31" height="14" fill="#7f7f7f"/>
<path d="M277 672 L292 642 H332.5 L336.5 650 L340.5 642 H380 L394 672 L380 702 H340.5 L336.5 694 L332.5 702 H292Z" fill="#6f6fd3"/>
<text x="335.5" y="679" font-family='"Liberation Serif", "Times New Roman", serif' font-weight="bold" font-size="20" text-anchor="middle" fill="#14143c">activator</text>
<text x="266" y="743" font-family='"Liberation Serif", "Times New Roman", serif' font-weight="bold" font-size="19" fill="#111">Class II motif</text>
<text x="722" y="675" font-family='"Liberation Sans", Arial, sans-serif' font-weight="bold" font-size="19.7" fill="#111">Strong transcription</text>
<path d="M842.5 710 H892.5 V701.5 L911 718.5 L892.5 735 V726 H842.5Z" fill="#000"/>
</g>
<g id="d2">
<text x="105.5" y="819" font-family='"Liberation Sans", Arial, sans-serif' font-weight="bold" font-size="19.7" fill="#111">Spx-dependent activation</text>
<path d="M115.5 797.5 l3.5 2.5 M148 799 l4 -3" stroke="#555" stroke-width="1" fill="none"/>
<path d="M215.5 970 C216 905 300 858 383.5 860" fill="none" stroke="#bfbfbf" stroke-width="1.4"/>
<path d="M344.4 946.4 C344 905 362 880 388 877" fill="none" stroke="#bfbfbf" stroke-width="1.4"/>
<ellipse cx="544" cy="876" rx="155" ry="55.3" fill="#93cfd8"/>
<ellipse cx="529.4" cy="923" rx="153.3" ry="80" fill="#d9d9d9"/>
<rect x="104" y="1031" width="691" height="8.8" fill="#7f7f7f"/>
<rect x="383.5" y="1018.8" width="60" height="13" fill="#7f7f7f"/>
<rect x="596.8" y="1018.8" width="58.7" height="13" fill="#7f7f7f"/>
<path d="M399 941.5 H640 Q645.5 941.5 645.5 947.0 V976 L655.5 1018.9 H596.8 L590.5 997 H449.2 L443.5 1018.9 H383.5 L393.5 970 V947.0 Q393.5 941.5 399 941.5Z" fill="#ffc90a"/>
<ellipse cx="452.3" cy="884.5" rx="23.7" ry="15.6" transform="rotate(-43 452.3 884.5)" fill="#c99700" stroke="#e6c25a" stroke-width="0.8"/>
<circle cx="403" cy="858.7" r="19.4" fill="#a6a6a6"/>
<circle cx="438" cy="851.8" r="19.1" fill="#a6a6a6"/>
<path d="M699 1020 H742.5 V1008.5 L767.5 1033.5 L742.5 1058.5 V1046 H699Z" fill="#7f7f7f"/>
<text x="650" y="868" font-family='"Liberation Serif", "Times New Roman", serif' font-size="20" text-anchor="middle" fill="#111">β</text>
<text x="586" y="900" font-family='"Liberation Serif", "Times New Roman", serif' font-size="20" letter-spacing="2" fill="#111">β’</text>
<text x="449.3" y="895.8" font-family='"Liberation Serif", "Times New Roman", serif' font-weight="bold" font-size="19" text-anchor="middle" fill="#1a1400">ω</text>
<text x="419" y="1006.5" font-family='"Liberation Serif", "Times New Roman", serif' font-weight="bold" font-size="19.5" text-anchor="middle" fill="#1a1400">R4</text>
<text x="617.2" y="1006" font-family='"Liberation Serif", "Times New Roman", serif' font-weight="bold" font-size="19.5" text-anchor="middle" fill="#1a1400">R2</text>
<text x="414.4" y="1056.4" font-family='"Liberation Serif", "Times New Roman", serif' font-weight="bold" font-size="19" text-anchor="middle" fill="#111">-35</text>
<text x="622" y="1056" font-family='"Liberation Serif", "Times New Roman", serif' font-weight="bold" font-size="19" text-anchor="middle" fill="#111">-10</text>
<text x="555.7" y="977.4" font-family='"Liberation Serif", "Times New Roman", serif' font-size="22" fill="#1a1400" stroke="#1a1400" stroke-width="0.55" textLength="14.5" lengthAdjust="spacingAndGlyphs">σ</text>
<text x="571" y="969.2" font-family='"Liberation Serif", "Times New Roman", serif' font-size="14.5" fill="#1a1400" stroke="#1a1400" stroke-width="0.3">A</text>
<text x="389.3" y="865.6" font-family='"Liberation Serif", "Times New Roman", serif' font-weight="bold" font-size="17" fill="#111">α</text>
<text x="398.5" y="872.2" font-family='"Liberation Serif", "Times New Roman", serif' font-weight="bold" font-size="11.6" fill="#111" stroke="#111" stroke-width="0.45" textLength="24.8" lengthAdjust="spacingAndGlyphs">NTD</text>
<text x="422.3" y="860.6" font-family='"Liberation Serif", "Times New Roman", serif' font-weight="bold" font-size="17" fill="#111">α</text>
<text x="431" y="866.7" font-family='"Liberation Serif", "Times New Roman", serif' font-weight="bold" font-size="11.6" fill="#111" stroke="#111" stroke-width="0.45" textLength="24.8" lengthAdjust="spacingAndGlyphs">NTD</text>
<circle cx="215.5" cy="990" r="20.3" fill="#a6a6a6"/><text x="200.5" y="990" font-family='"Liberation Serif", "Times New Roman", serif' font-weight="bold" font-size="17" fill="#111">α</text><text x="210.0" y="996.3" font-family='"Liberation Serif", "Times New Roman", serif' font-weight="bold" font-size="11.6" fill="#111" stroke="#111" stroke-width="0.45" textLength="24.8" lengthAdjust="spacingAndGlyphs">CTD</text>
<circle cx="344.6" cy="966" r="20" fill="#a6a6a6"/><text x="329.6" y="967" font-family='"Liberation Serif", "Times New Roman", serif' font-weight="bold" font-size="17" fill="#111">α</text><text x="339.1" y="973.3" font-family='"Liberation Serif", "Times New Roman", serif' font-weight="bold" font-size="11.6" fill="#111" stroke="#111" stroke-width="0.45" textLength="24.8" lengthAdjust="spacingAndGlyphs">CTD</text>
<rect x="331.6" y="1018" width="31" height="14" fill="#7f7f7f"/>
<path d="M285 985 L299.7 1013.8 A32.3 32.3 0 1 1 317.1 981.6Z" fill="#00a94f"/>
<text x="281" y="980.5" font-family='"Liberation Serif", "Times New Roman", serif' font-weight="bold" font-size="19.5" text-anchor="middle" fill="#08280f" stroke="#08280f" stroke-width="0.4">Spx</text>
<text x="343.5" y="1057" font-family='"Liberation Serif", "Times New Roman", serif' font-weight="bold" font-size="19" text-anchor="middle" fill="#111">-44</text>
<text x="734" y="974.5" font-family='"Liberation Sans", Arial, sans-serif' font-weight="bold" font-size="19.7" fill="#111">Weak transcription</text>
<path d="M841.5 1032.5 H896 V1028 L911 1035.5 L896 1043 V1038.5 H841.5Z" fill="#000"/>
</g>
<g id="d3">
<path d="M216 1224.5 C216 1160 300 1113 384 1115" fill="none" stroke="#bfbfbf" stroke-width="1.4"/>
<path d="M340.8 1186 C341 1155 362 1134 390 1131" fill="none" stroke="#bfbfbf" stroke-width="1.4"/>
<ellipse cx="544" cy="1131" rx="155" ry="55.3" fill="#93cfd8"/>
<ellipse cx="529.4" cy="1178" rx="153.3" ry="80" fill="#d9d9d9"/>
<rect x="104" y="1286" width="691" height="8.8" fill="#7f7f7f"/>
<rect x="383.5" y="1273.8" width="60" height="13" fill="#7f7f7f"/>
<rect x="596.8" y="1273.8" width="58.7" height="13" fill="#7f7f7f"/>
<path d="M399 1196.5 H640 Q645.5 1196.5 645.5 1202.0 V1231 L655.5 1273.9 H596.8 L590.5 1252 H449.2 L443.5 1273.9 H383.5 L393.5 1239 V1202.0 Q393.5 1196.5 399 1196.5Z" fill="#ffc90a"/>
<ellipse cx="452.3" cy="1139.5" rx="23.7" ry="15.6" transform="rotate(-43 452.3 1139.5)" fill="#c99700" stroke="#e6c25a" stroke-width="0.8"/>
<circle cx="403" cy="1113.7" r="19.4" fill="#a6a6a6"/>
<circle cx="438" cy="1106.8" r="19.1" fill="#a6a6a6"/>
<path d="M699 1275 H742.5 V1263.5 L767.5 1288.5 L742.5 1313.5 V1301 H699Z" fill="#7f7f7f"/>
<text x="650" y="1123" font-family='"Liberation Serif", "Times New Roman", serif' font-size="20" text-anchor="middle" fill="#111">β</text>
<text x="586" y="1155" font-family='"Liberation Serif", "Times New Roman", serif' font-size="20" letter-spacing="2" fill="#111">β’</text>
<text x="449.3" y="1150.8" font-family='"Liberation Serif", "Times New Roman", serif' font-weight="bold" font-size="19" text-anchor="middle" fill="#1a1400">ω</text>
<text x="422.2" y="1263.7" font-family='"Liberation Serif", "Times New Roman", serif' font-weight="bold" font-size="19.5" text-anchor="middle" fill="#1a1400">R4</text>
<text x="620.8" y="1263.7" font-family='"Liberation Serif", "Times New Roman", serif' font-weight="bold" font-size="19.5" text-anchor="middle" fill="#1a1400">R2</text>
<text x="418" y="1313.8" font-family='"Liberation Serif", "Times New Roman", serif' font-weight="bold" font-size="19" text-anchor="middle" fill="#111">-35</text>
<text x="623.5" y="1312.5" font-family='"Liberation Serif", "Times New Roman", serif' font-weight="bold" font-size="19" text-anchor="middle" fill="#111">-10</text>
<text x="558.9" y="1234.8" font-family='"Liberation Serif", "Times New Roman", serif' font-size="22" fill="#1a1400" stroke="#1a1400" stroke-width="0.55" textLength="14.5" lengthAdjust="spacingAndGlyphs">σ</text>
<text x="574.2" y="1226.6" font-family='"Liberation Serif", "Times New Roman", serif' font-size="14.5" fill="#1a1400" stroke="#1a1400" stroke-width="0.3">A</text>
<text x="389.3" y="1120.6" font-family='"Liberation Serif", "Times New Roman", serif' font-weight="bold" font-size="17" fill="#111">α</text>
<text x="398.5" y="1127.2" font-family='"Liberation Serif", "Times New Roman", serif' font-weight="bold" font-size="11.6" fill="#111" stroke="#111" stroke-width="0.45" textLength="24.8" lengthAdjust="spacingAndGlyphs">NTD</text>
<text x="422.3" y="1115.6" font-family='"Liberation Serif", "Times New Roman", serif' font-weight="bold" font-size="17" fill="#111">α</text>
<text x="431" y="1121.7" font-family='"Liberation Serif", "Times New Roman", serif' font-weight="bold" font-size="11.6" fill="#111" stroke="#111" stroke-width="0.45" textLength="24.8" lengthAdjust="spacingAndGlyphs">NTD</text>
<circle cx="216" cy="1244.5" r="20.3" fill="#a6a6a6"/><text x="201" y="1246.5" font-family='"Liberation Serif", "Times New Roman", serif' font-weight="bold" font-size="17" fill="#111">α</text><text x="210.5" y="1252.8" font-family='"Liberation Serif", "Times New Roman", serif' font-weight="bold" font-size="11.6" fill="#111" stroke="#111" stroke-width="0.45" textLength="24.8" lengthAdjust="spacingAndGlyphs">CTD</text>
<circle cx="340.8" cy="1205.3" r="19.6" fill="#a6a6a6"/><text x="325.8" y="1205.1" font-family='"Liberation Serif", "Times New Roman", serif' font-weight="bold" font-size="17" fill="#111">α</text><text x="335.3" y="1211.3999999999999" font-family='"Liberation Serif", "Times New Roman", serif' font-weight="bold" font-size="11.6" fill="#111" stroke="#111" stroke-width="0.45" textLength="24.8" lengthAdjust="spacingAndGlyphs">CTD</text>
<rect x="331.6" y="1273" width="31" height="14" fill="#7f7f7f"/>
<path d="M360.4 1252.6 L374.2 1282.2 A32.7 32.7 0 1 1 392.8 1248.4Z" fill="#00a94f"/>
<path d="M389.8 1262.2 C389.7 1263.8 391.0 1265.6 390.5 1267.0 C390.0 1268.3 387.9 1269.2 386.7 1270.4 C385.5 1271.6 384.9 1273.5 383.4 1274.2 C381.9 1274.9 379.7 1274.4 377.9 1274.7 C376.1 1275.0 374.2 1276.4 372.6 1276.1 C371.0 1275.8 369.9 1273.6 368.3 1272.8 C366.7 1272.1 363.9 1272.4 362.8 1271.3 C361.8 1270.3 362.7 1267.9 362.1 1266.4 C361.5 1264.9 359.1 1263.6 359.1 1262.2 C359.1 1260.8 361.4 1259.5 362.1 1258.0 C362.7 1256.5 362.1 1254.4 363.1 1253.3 C364.1 1252.2 366.6 1251.8 368.1 1251.3 C369.7 1250.8 370.9 1250.4 372.5 1250.2 C374.1 1250.0 376.0 1250.1 377.9 1250.0 C379.7 1250.0 382.0 1249.4 383.5 1250.1 C384.9 1250.7 385.4 1252.8 386.7 1254.0 C387.9 1255.2 390.7 1255.9 391.2 1257.2 C391.7 1258.6 389.9 1260.6 389.8 1262.2Z" fill="#ff0a0a"/>
<text x="375.8" y="1263.2" font-family='"Liberation Serif", "Times New Roman", serif' font-weight="bold" font-size="10.5" text-anchor="middle" fill="#ffd75e" stroke="#ffd75e" stroke-width="0.3" textLength="26.5" lengthAdjust="spacingAndGlyphs">stress</text>
<text x="358.5" y="1242" font-family='"Liberation Serif", "Times New Roman", serif' font-weight="bold" font-size="19.5" text-anchor="middle" fill="#08280f" stroke="#08280f" stroke-width="0.4">Spx</text>
<text x="343.5" y="1312.5" font-family='"Liberation Serif", "Times New Roman", serif' font-weight="bold" font-size="19" text-anchor="middle" fill="#111">-44</text>
<text x="721.5" y="1218" font-family='"Liberation Sans", Arial, sans-serif' font-weight="bold" font-size="19.7" fill="#111">Strong transcription</text>
<text x="798" y="1242.5" font-family='"Liberation Sans", Arial, sans-serif' font-size="16" fill="#111" textLength="109.5" lengthAdjust="spacingAndGlyphs">(<tspan font-weight="bold" font-style="italic" font-size="15">stress genes</tspan>)</text>
<path d="M840 1279 H890.5 V1271 L909 1288 L890.5 1304.5 V1295.5 H840Z" fill="#000"/>
<text x="948" y="1315" font-family='"Liberation Sans", Arial, sans-serif' font-size="8" fill="#888">↵</text>
</g>
</svg></body></html>
